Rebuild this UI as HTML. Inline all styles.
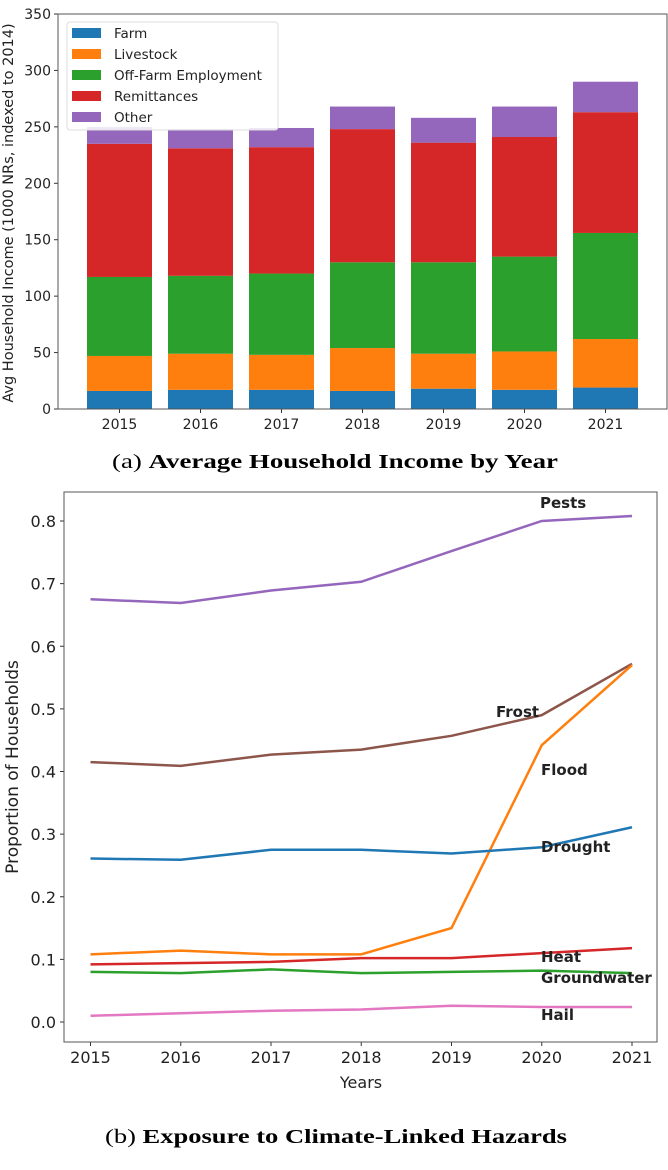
<!DOCTYPE html>
<html><head><meta charset="utf-8"><style>
body{margin:0;background:#fff;width:668px;height:1170px;overflow:hidden}
svg{display:block}
text{font-family:"DejaVu Sans","Liberation Sans",sans-serif;fill:#222}
.cap{font-family:"Liberation Serif",serif;font-size:20px;fill:#000}
</style></head><body>
<svg id="s" width="668" height="1170">
<text class="cap" x="112" y="468" textLength="446" lengthAdjust="spacingAndGlyphs">(a) <tspan font-weight="bold">Average Household Income by Year</tspan></text>
<text class="cap" x="105" y="1143" textLength="462" lengthAdjust="spacingAndGlyphs">(b) <tspan font-weight="bold">Exposure to Climate-Linked Hazards</tspan></text>
</svg>
<script>
const years=["2015","2016","2017","2018","2019","2020","2021"];
const farm=[16,17,17,16,18,17,19];
const livestock=[31,32,31,38,31,34,43];
const offfarm=[70,69,72,76,81,84,94];
const remit=[118,113,112,118,106,106,107];
const other=[15,17,17,20,22,27,27];
const barSeries=["Farm","Livestock","Off-Farm Employment","Remittances","Other"];
const barTicks=[0,50,100,150,200,250,300,350];

const hazards=["Pests","Frost","Flood","Drought","Heat","Groundwater","Hail"];
const pests=[0.675,0.669,0.689,0.703,0.752,0.800,0.808];
const frost=[0.415,0.409,0.427,0.435,0.457,0.490,0.572];
const flood=[0.108,0.114,0.108,0.108,0.150,0.442,0.570];
const drought=[0.261,0.259,0.275,0.275,0.269,0.279,0.311];
const heat=[0.092,0.094,0.096,0.102,0.102,0.110,0.118];
const groundwater=[0.080,0.078,0.084,0.078,0.080,0.082,0.078];
const hail=[0.010,0.014,0.018,0.020,0.026,0.024,0.024];
const lineTicks=[0,0.1,0.2,0.3,0.4,0.5,0.6,0.7,0.8];

const NS="http://www.w3.org/2000/svg",S=document.getElementById('s');
function el(t,a,txt){const e=document.createElementNS(NS,t);for(const k in a)e.setAttribute(k,a[k]);if(txt!=null)e.textContent=txt;S.appendChild(e);return e;}
const cols=['#1f77b4','#ff7f0e','#2ca02c','#d62728','#9467bd'];
// top chart
const L1=58,R1=667,T1=14,B1=409;
const y1=v=>B1-v*(B1-T1)/350, x1=i=>119.5+i*81;
const stacks=[farm,livestock,offfarm,remit,other];
years.forEach((y,i)=>{let base=0;stacks.forEach((s,k)=>{const r=el('rect',{x:x1(i)-32.5,y:y1(base+s[i]),width:65,height:y1(base)-y1(base+s[i]),fill:cols[k]});

base+=s[i];});
const t=el('text',{x:x1(i),y:B1+20,'text-anchor':'middle','font-size':14},y);

el('line',{x1:x1(i),x2:x1(i),y1:B1,y2:B1+4,stroke:'#333'});});
barTicks.forEach(v=>{el('line',{x1:L1-4,x2:L1,y1:y1(v),y2:y1(v),stroke:'#333'});
const t=el('text',{x:L1-7,y:y1(v)+5,'text-anchor':'end','font-size':14},v);
});
const f1=el('rect',{x:L1,y:T1,width:R1-L1,height:B1-T1,fill:'none',stroke:'#555'});

const yt1=el('text',{transform:'translate(13,213) rotate(-90)','text-anchor':'middle','font-size':14.5},'Avg Household Income (1000 NRs, indexed to 2014)');

const lg=el('rect',{x:67,y:22,width:211,height:108,rx:3,fill:'#fff','fill-opacity':0.85,stroke:'#ddd'});

barSeries.forEach((n,k)=>{const yy=33+k*21;el('rect',{x:72,y:yy-5,width:29,height:10,fill:cols[k]});
const t=el('text',{x:114,y:yy+5,'font-size':13.5},n);});
// bottom chart
const L2=64,R2=657,T2=492,B2=1042;
const y2=v=>1022-v*(1022-521)/0.8, x2=i=>90.5+i*(632-90.5)/6;
lineTicks.forEach(v=>{el('line',{x1:L2-4,x2:L2,y1:y2(v),y2:y2(v),stroke:'#333'});
const t=el('text',{x:L2-8,y:y2(v)+6,'text-anchor':'end','font-size':16},v.toFixed(1));
});
years.forEach((y,i)=>{el('line',{x1:x2(i),x2:x2(i),y1:B2,y2:B2+4,stroke:'#333'});
const t=el('text',{x:x2(i),y:B2+21,'text-anchor':'middle','font-size':16},y);
});
const f2=el('rect',{x:L2,y:T2,width:R2-L2,height:B2-T2,fill:'none',stroke:'#555'});

const xt=el('text',{x:361,y:1088,'text-anchor':'middle','font-size':16},'Years');
const yt2=el('text',{transform:'translate(18,767) rotate(-90)','text-anchor':'middle','font-size':17},'Proportion of Households');
const lines=[pests,frost,flood,drought,heat,groundwater,hail];
const lc=['#9467bd','#8c564b','#ff7f0e','#1f77b4','#d62728','#2ca02c','#e377c2'];
const lpos=[[540,508],[496,717],[541,775],[541,852],[541,962],[541,983],[541,1020]];
lines.forEach((d,k)=>{const p=el('polyline',{points:d.map((v,i)=>x2(i)+','+y2(v)).join(' '),fill:'none',stroke:lc[k],'stroke-width':2.5});

const t=el('text',{x:lpos[k][0],y:lpos[k][1],'font-size':15,'font-weight':'bold',fill:'#111'},hazards[k]);
});
</script>
</body></html>
